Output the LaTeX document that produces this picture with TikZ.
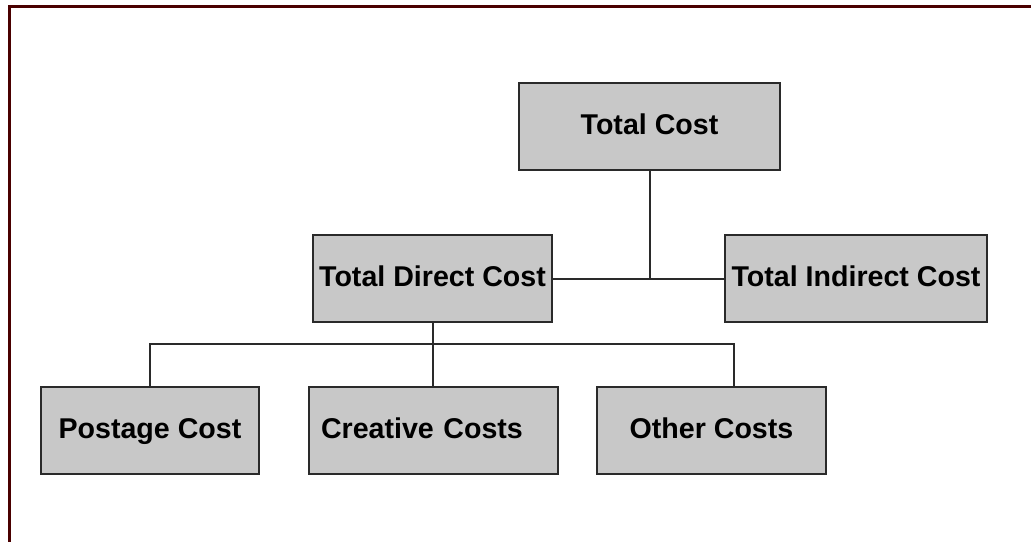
\documentclass[tikz,border=0pt]{standalone}
\usepackage{fontspec}
\setmainfont{Liberation Sans}
\definecolor{frame}{HTML}{4A0000}
\definecolor{boxfill}{HTML}{C8C8C8}
\definecolor{lines}{HTML}{2A2A2A}
\begin{document}
\begin{tikzpicture}[x=1pt,y=-1pt,
  costbox/.style={draw=lines, fill=boxfill, line width=2pt, rectangle,
    inner sep=0pt, minimum height=87pt, text height=20pt, text depth=4pt,
    font=\fontsize{28.6}{32}\selectfont\bfseries},
  conn/.style={draw=lines, line width=2pt}]
\useasboundingbox (0,0) rectangle (1031,542);
\fill[white] (0,0) rectangle (1031,542);
\draw[frame, line width=3.5pt] (1031,6.5) -- (9.5,6.5) -- (9.5,542);

\node[costbox, minimum width=261pt] (tc)  at (649.5,126.5) {Total Cost};
\node[costbox, minimum width=239pt] (tdc) at (432.5,278.5) {Total Direct Cost};
\node[costbox, minimum width=262pt] (tic) at (856,278.5) {Total Indirect Cost};
\node[costbox, minimum width=218pt] (pc)  at (150,430.5) {Postage Cost};
\node[costbox, inner xsep=12pt, text width=225pt, align=left] (cc) at (433.5,430.5) {Creative Costs};
\node[costbox, minimum width=229pt] (oc)  at (711.5,430.5) {Other Costs};

\coordinate (ocj) at (734,344);

\draw[conn] (tdc.east) -- (tic.west);
\draw[conn] (tc.south) -- (tc.south |- tdc.east);
\draw[conn] (tdc.south) -- (tdc.south |- cc.north);
\draw[conn] (pc.north) |- (ocj) -- (ocj |- oc.north);
\end{tikzpicture}
\end{document}
